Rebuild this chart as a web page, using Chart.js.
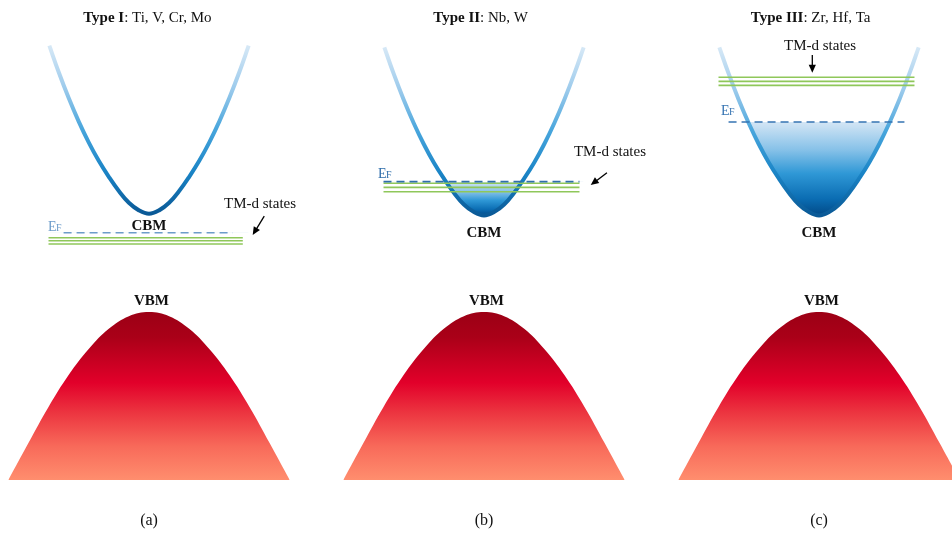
<!DOCTYPE html>
<html>
<head>
<meta charset="utf-8">
<script src="https://cdn.jsdelivr.net/npm/chart.js@4.4.0/dist/chart.umd.min.js"></script>
<style>
  html, body { margin: 0; padding: 0; background: #ffffff; }
  canvas { display: block; }
</style>
</head>
<body>
<canvas id="bands" width="952" height="533" style="width:952px;height:533px"></canvas>
<script>
// ---- Band-alignment schematic: three doping types, energy (E) vs momentum (k) ----

// Panel identity
const panelK = [0, 2, 4];                       // k-offset of each panel centre
const panelTags = ['(a)', '(b)', '(c)'];
const typeNames = ['Type I', 'Type II', 'Type III'];
const typeMetals = [': Ti, V, Cr, Mo', ': Nb, W', ': Zr, Hf, Ta'];

// Conduction band: half-width in k and rise above the CBM
const cbHalfK = [0, 0.06, 0.12, 0.18, 0.24, 0.30, 0.36, 0.42, 0.48, 0.54, 0.595];
const cbRise  = [0, 0.02, 0.065, 0.135, 0.22, 0.315, 0.425, 0.55, 0.69, 0.845, 1.0];

// Valence band: half-width in k and drop below the VBM
const vbHalfK = [0, 0.12, 0.24, 0.36, 0.48, 0.60, 0.72, 0.84];
const vbDrop  = [0, 0.025, 0.10, 0.22, 0.375, 0.565, 0.78, 1.0];

// Band edges and levels per panel (energy units)
const vbmEnergy = [0, 0, 0];
const cbmEnergy = [0.585, 0.575, 0.575];
const fermiEnergy = [0.472, 0.776, 1.131];
const fermiSpan = [[-0.51, 0.50], [-0.60, 0.57], [-0.54, 0.51]];
const tmdEnergies = [[0.442, 0.424, 0.405], [0.766, 0.742, 0.716], [1.397, 1.373, 1.349]];
const tmdSpan = [[-0.60, 0.56], [-0.60, 0.57], [-0.60, 0.57]];

// ---- layout of annotations (k relative to panel centre, E absolute) ----
const axisRange = { kMin: -0.8896, kMax: 4.794, eMin: -1.315, eMax: 1.857 };
const titleAt = { k: [-0.01, -0.02, -0.05], E: 1.75 };
const cbmLabelE = [0.512, 0.467, 0.467];
const vbmLabelE = 0.065;
const tagE = -1.245;
const efLabelAt = [[-0.603, 0.485], [-0.633, 0.798], [-0.585, 1.173]];
const tmdLabelAt = [[0.663, 0.643], [0.752, 0.952], [0.006, 1.585]];
const tmdArrows = [[0.688, 0.571, 0.619, 0.458], [0.734, 0.829, 0.637, 0.756], [-0.04, 1.530, -0.04, 1.424]];

// ---- styles ----
const serif = '"Liberation Serif", "Times New Roman", serif';
const vbStops = [[0, '#9c0015'], [0.15, '#aa0018'], [0.42, '#e2002a'], [0.6, '#ec3540'], [0.8, '#f86a5a'], [1, '#ff8e6e']];
const cbLineStops = [[0, '#d6e8f6'], [0.25, '#9dcbec'], [0.5, '#47a5dc'], [0.75, '#1a84c6'], [1, '#0a5996']];
const cbFillStops = [[0, '#d4e6f5'], [0.3, '#86c1e8'], [0.55, '#2f98d6'], [0.82, '#0b6db3'], [1, '#024a88']];
const efColors = ['#6d9cca', '#2f6eab', '#3674b2'];
const tmdColor = '#8fc75a';
const curveTension = 0.4;

function verticalGradient(chart, eTop, eBottom, stops) {
  const y = chart.scales && chart.scales.y;
  if (!y || !chart.chartArea) return stops[stops.length - 1][1];
  const g = chart.ctx.createLinearGradient(0, y.getPixelForValue(eTop), 0, y.getPixelForValue(eBottom));
  stops.forEach(([o, c]) => g.addColorStop(o, c));
  return g;
}

// mirror a half-curve about the panel centre
function mirrored(halfK, dE, centreK, edgeE, sign) {
  const pts = [];
  for (let i = halfK.length - 1; i > 0; i--) pts.push({ x: centreK - halfK[i], y: edgeE + sign * dE[i] });
  for (let i = 0; i < halfK.length; i++) pts.push({ x: centreK + halfK[i], y: edgeE + sign * dE[i] });
  return pts;
}

const datasets = [];
panelK.forEach((k0, p) => {
  // valence band (filled bell)
  datasets.push({
    label: 'VB ' + panelTags[p],
    data: mirrored(vbHalfK, vbDrop, k0, vbmEnergy[p], -1),
    showLine: true, pointRadius: 0, borderWidth: 0, borderColor: 'rgba(0,0,0,0)',
    tension: curveTension,
    fill: { value: vbmEnergy[p] - 1 },
    backgroundColor: ctx => verticalGradient(ctx.chart, vbmEnergy[p], vbmEnergy[p] - 1, vbStops),
    order: 5
  });
  // conduction band, occupied below the Fermi level
  datasets.push({
    label: 'CB ' + panelTags[p],
    data: mirrored(cbHalfK, cbRise, k0, cbmEnergy[p], 1),
    showLine: true, pointRadius: 0, borderWidth: 4,
    tension: curveTension,
    borderColor: ctx => verticalGradient(ctx.chart, cbmEnergy[p] + 1, cbmEnergy[p], cbLineStops),
    fill: { value: fermiEnergy[p], above: 'rgba(0,0,0,0)' },
    backgroundColor: ctx => verticalGradient(ctx.chart, fermiEnergy[p], cbmEnergy[p], cbFillStops),
    order: 3
  });
  // TM-d states
  tmdEnergies[p].forEach((e, j) => {
    datasets.push({
      label: 'TM-d ' + panelTags[p] + ' ' + j,
      data: [{ x: k0 + tmdSpan[p][0], y: e }, { x: k0 + tmdSpan[p][1], y: e }],
      showLine: true, pointRadius: 0, borderWidth: 1.6, borderColor: tmdColor, fill: false,
      order: 2
    });
  });
  // Fermi level
  datasets.push({
    label: 'EF ' + panelTags[p],
    data: [{ x: k0 + fermiSpan[p][0], y: fermiEnergy[p] }, { x: k0 + fermiSpan[p][1], y: fermiEnergy[p] }],
    showLine: true, pointRadius: 0, borderWidth: 1.6, borderColor: efColors[p], borderDash: [8, 5], fill: false,
    order: 1
  });
});

function drawArrow(ctx, x1, y1, x2, y2) {
  const ang = Math.atan2(y2 - y1, x2 - x1);
  const len = 8, half = 3.6;
  ctx.strokeStyle = '#000'; ctx.fillStyle = '#000'; ctx.lineWidth = 1.3;
  ctx.beginPath();
  ctx.moveTo(x1, y1);
  ctx.lineTo(x2 - Math.cos(ang) * len * 0.8, y2 - Math.sin(ang) * len * 0.8);
  ctx.stroke();
  ctx.beginPath();
  ctx.moveTo(x2, y2);
  ctx.lineTo(x2 - Math.cos(ang) * len + Math.sin(ang) * half, y2 - Math.sin(ang) * len - Math.cos(ang) * half);
  ctx.lineTo(x2 - Math.cos(ang) * len - Math.sin(ang) * half, y2 - Math.sin(ang) * len + Math.cos(ang) * half);
  ctx.closePath();
  ctx.fill();
}

const annotations = {
  id: 'bandAnnotations',
  afterDatasetsDraw(chart) {
    const { ctx, scales: { x, y } } = chart;
    ctx.save();
    panelK.forEach((k0, p) => {
      // title: bold type name + regular metal list, centred
      ctx.textBaseline = 'middle';
      ctx.fillStyle = '#111';
      const boldFont = 'bold 15px ' + serif, regFont = '15px ' + serif;
      ctx.font = boldFont; const wB = ctx.measureText(typeNames[p]).width;
      ctx.font = regFont; const wR = ctx.measureText(typeMetals[p]).width;
      const tx = x.getPixelForValue(k0 + titleAt.k[p]) - (wB + wR) / 2;
      const ty = y.getPixelForValue(titleAt.E);
      ctx.textAlign = 'left';
      ctx.font = boldFont; ctx.fillText(typeNames[p], tx, ty);
      ctx.font = regFont; ctx.fillText(typeMetals[p], tx + wB, ty);

      // band-edge labels
      ctx.textAlign = 'center';
      ctx.font = boldFont;
      ctx.fillText('CBM', x.getPixelForValue(k0), y.getPixelForValue(cbmLabelE[p]));
      ctx.fillText('VBM', x.getPixelForValue(k0 + 0.015), y.getPixelForValue(vbmLabelE));
      ctx.font = '16px ' + serif;
      ctx.fillText(panelTags[p], x.getPixelForValue(k0), y.getPixelForValue(tagE));

      // Fermi level label (E with small F)
      ctx.textAlign = 'left';
      ctx.textBaseline = 'alphabetic';
      ctx.fillStyle = efColors[p];
      const ex = x.getPixelForValue(k0 + efLabelAt[p][0]), ey = y.getPixelForValue(efLabelAt[p][1]);
      ctx.font = '14px ' + serif; ctx.fillText('E', ex, ey);
      const wE = ctx.measureText('E').width;
      ctx.font = '10px ' + serif; ctx.fillText('F', ex + wE - 0.5, ey);

      // TM-d states label and arrow
      ctx.fillStyle = '#111';
      ctx.textAlign = 'center';
      ctx.textBaseline = 'middle';
      ctx.font = '15px ' + serif;
      ctx.fillText('TM-d states', x.getPixelForValue(k0 + tmdLabelAt[p][0]), y.getPixelForValue(tmdLabelAt[p][1]));
      const a = tmdArrows[p];
      drawArrow(ctx, x.getPixelForValue(k0 + a[0]), y.getPixelForValue(a[1]),
                     x.getPixelForValue(k0 + a[2]), y.getPixelForValue(a[3]));
    });
    ctx.restore();
  }
};

new Chart(document.getElementById('bands'), {
  type: 'scatter',
  data: { datasets },
  options: {
    responsive: false,
    devicePixelRatio: 1,
    animation: false,
    events: [],
    layout: { padding: 0 },
    plugins: { legend: { display: false }, tooltip: { enabled: false }, title: { display: false } },
    scales: {
      x: { type: 'linear', display: false, min: axisRange.kMin, max: axisRange.kMax },
      y: { type: 'linear', display: false, min: axisRange.eMin, max: axisRange.eMax }
    }
  },
  plugins: [annotations]
});
</script>
</body>
</html>
